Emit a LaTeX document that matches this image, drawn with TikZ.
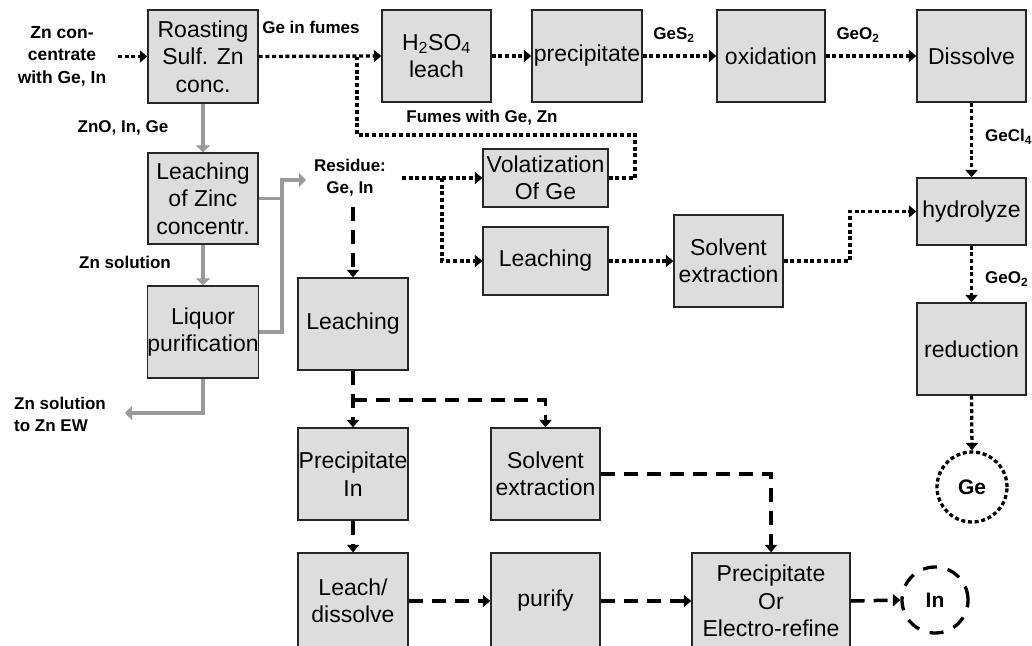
\documentclass[tikz,border=0pt]{standalone}
\usepackage{fontspec}
\setmainfont{Liberation Sans}
\usetikzlibrary{arrows.meta}
\definecolor{boxfill}{RGB}{221,221,221}
\definecolor{flowgray}{RGB}{155,155,155}
\begin{document}
\begin{tikzpicture}[x=1pt,y=-1pt,
  proc/.style={draw=black!85,line width=1.3pt,fill=boxfill,inner sep=0pt,align=center,
    font=\fontsize{23}{27.5}\selectfont},
  lbl/.style={font=\fontsize{17}{22}\selectfont\bfseries,align=center,inner sep=0pt},
  tip/.style={-{Triangle[length=7.5pt,width=12pt]}},
  dotl/.style={line width=3.3pt,dash pattern=on 4pt off 2.7pt},
  dashl/.style={line width=3.5pt,dash pattern=on 14pt off 9pt},
  grayl/.style={line width=3.5pt,draw=flowgray,-{Triangle[length=7pt,width=14pt]}},
  endnode/.style={circle,line width=3.3pt,minimum size=70pt,inner sep=0pt,
    font=\fontsize{21}{21}\selectfont\bfseries}
]
\clip (0,0) rectangle (1032,645);
\fill[white] (0,0) rectangle (1032,645);

% boxes
\node[proc,minimum width=110pt,minimum height=93pt] (roast) at (203,56.5) {Roasting\\Sulf. Zn\\conc.};
\node[proc,minimum width=109pt,minimum height=92pt] (h2so4) at (436.5,56) {H\textsubscript{2}SO\textsubscript{4}\\leach};
\node[proc,minimum width=110pt,minimum height=92pt] (precip) at (587,56) {precipitate};
\node[proc,minimum width=108pt,minimum height=92pt] (oxid) at (771,56) {oxidation};
\node[proc,minimum width=109pt,minimum height=92pt] (dissolve) at (971.5,56) {Dissolve};
\node[proc,minimum width=109pt,minimum height=67pt] (hydro) at (971.5,211.5) {hydrolyze};
\node[proc,minimum width=109pt,minimum height=92pt] (reduct) at (971.5,349) {reduction};
\node[proc,minimum width=110pt,minimum height=91pt] (leachzn) at (203,198.5) {Leaching\\of Zinc\\concentr.};
\node[proc,minimum width=110pt,minimum height=92pt] (liquor) at (203,332) {Liquor\\purification};
\node[proc,minimum width=125pt,minimum height=58pt] (volat) at (545.5,178) {Volatization\\Of Ge};
\node[proc,minimum width=125pt,minimum height=68pt] (leachge) at (545.5,261) {Leaching};
\node[proc,minimum width=109pt,minimum height=92pt] (solvge) at (728.5,261) {Solvent\\extraction};
\node[proc,minimum width=110pt,minimum height=92pt] (leachin) at (353,324) {Leaching};
\node[proc,minimum width=110pt,minimum height=92pt] (precin) at (353,474) {Precipitate\\In};
\node[proc,minimum width=109pt,minimum height=92pt] (solvin) at (545.5,474) {Solvent\\extraction};
\node[proc,minimum width=110pt,minimum height=96pt] (leachdis) at (353,601) {Leach/\\dissolve};
\node[proc,minimum width=109pt,minimum height=96pt] (purify) at (545.5,601) {purify};
\node[proc,minimum width=158pt,minimum height=96pt] (precor) at (771,601) {Precipitate\\Or\\Electro-refine};

\node[endnode,draw,dotl] (ge) at (972,487) {Ge};
\node[endnode,draw,line width=3.3pt,dash pattern=on 14pt off 11pt,minimum size=66pt] (in) at (935,600) {In};

% labels
\node[lbl,font=\fontsize{17.5}{22.5}\selectfont\bfseries] (inlbl) at (62,56) {Zn con-\\centrate\\with Ge, In};
\node[lbl] (gefumes) at (311,27) {Ge in fumes};
\node[lbl] (ges2) at (674,35) {GeS\textsubscript{2}};
\node[lbl] (geo2a) at (858,35) {GeO\textsubscript{2}};
\node[lbl,anchor=west] (gecl4) at (985,137) {GeCl\textsubscript{4}};
\node[lbl,anchor=west] (geo2b) at (985,279) {GeO\textsubscript{2}};
\node[lbl] (fumes) at (482,118) {Fumes with Ge, Zn};
\node[lbl] (zno) at (123,128) {ZnO, In, Ge};
\node[lbl] (znsol) at (125,262) {Zn solution};
\node[lbl,align=left,anchor=west] (znew) at (14,414) {Zn solution\\to Zn EW};
\node[lbl] (res) at (350,178) {Residue:\\Ge, In};

% coordinates
\coordinate (inA) at (118,56.5);
\coordinate (fA) at (635,135);
\coordinate (fB) at (357,135);
\coordinate (rA) at (402,178);
\coordinate (rB) at (442,178);
\coordinate (rC) at (353,207);
\coordinate (sA) at (850,261);
\coordinate (gJ) at (282,180);
\coordinate (gT) at (306,180);
\coordinate (zOut) at (125,413);
\coordinate (dJ) at (353,400);

% dotted (Ge) flows
\draw[dotl,tip] (inA) -- (roast.west);
\draw[dotl,tip] (roast.east) -- (h2so4.west);
\draw[dotl] (volat.east) -| (fA) -- (fB) -- (fB |- roast.east);
\draw[dotl,tip] (h2so4.east) -- (precip.west);
\draw[dotl,tip] (precip.east) -- (oxid.west);
\draw[dotl,tip] (oxid.east) -- (dissolve.west);
\draw[dotl,tip] (dissolve.south) -- (hydro.north);
\draw[dotl,tip] (hydro.south) -- (reduct.north);
\draw[dotl,tip] (reduct.south) -- (ge.north);
\draw[dotl,tip] (rA) -- (volat.west);
\draw[dotl,tip] (rB) |- (leachge.west);
\draw[dotl,tip] (leachge.east) -- (solvge.west);
\draw[dotl,tip] (solvge.east) -- (sA) |- (hydro.west);

% gray (Zn) flows
\draw[grayl] (roast.south) -- (leachzn.north);
\draw[grayl] (leachzn.south) -- (liquor.north);
\draw[grayl] (liquor.east) -| (gJ) -- (gT);
\draw[line width=3.5pt,draw=flowgray] (leachzn.east) -- (leachzn.east -| gJ);
\draw[grayl] (liquor.south) |- (zOut);

% dashed (In) flows
\draw[dashl,tip] (rC) -- (leachin.north);
\draw[dashl,tip] (leachin.south) -- (precin.north);
\draw[dashl,tip] (dJ) -| (solvin.north);
\draw[dashl,tip] (precin.south) -- (leachdis.north);
\draw[dashl,tip] (leachdis.east |- 0,601) -- (purify.west);
\draw[dashl,tip] (purify.east) -- (precor.west);
\draw[dashl,tip] (solvin.east) -| (precor.north);
\draw[dashl,tip] (precor.east) -- (in.west);
\end{tikzpicture}
\end{document}
